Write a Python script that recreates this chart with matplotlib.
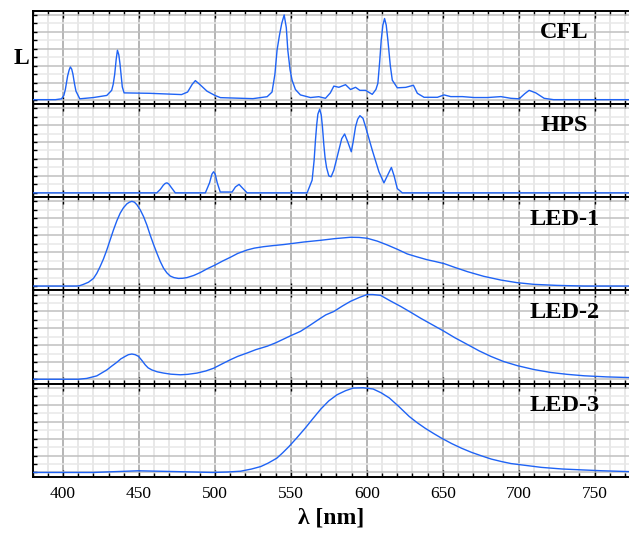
import matplotlib
matplotlib.use("Agg")
import matplotlib.pyplot as plt
from matplotlib.ticker import MultipleLocator

plt.rcParams['font.family'] = ['Liberation Serif', 'DejaVu Serif']

# ---------------- data ----------------
names = ["CFL", "HPS", "LED-1", "LED-2", "LED-3"]

cfl_nm = [380, 395, 399, 400.5, 401.5, 403, 404, 404.8, 405.7, 406.5, 407.5, 408.5, 411,
          420, 428.8, 432, 433, 434, 435, 435.8, 436.7, 437.5, 439, 440.2, 457, 478, 482,
          485, 487.1, 490, 494.8, 500, 503.6, 525, 534.4, 537.6, 539.5, 540.9, 542.5,
          544, 545.6, 547, 548, 549.5, 550.8, 553, 556.3, 562.9, 568.4, 572.8, 576,
          578.3, 581.6, 586, 589.3, 592.6, 595.4, 599.2, 603.6, 606, 607.3, 608.5, 609.5,
          610.6, 611.7, 612.8, 613.9, 615.5, 616.8, 620.1, 625.6, 630.7, 633.3, 637.7,
          646.5, 650.9, 655.3, 663, 670.7, 679.5, 688.3, 694.9, 700.3, 704, 706.9, 711.3,
          716.8, 723, 780]
cfl_val = [0.0, 0.0, 0.01, 0.05, 0.12, 0.28, 0.35, 0.386, 0.36, 0.30, 0.19, 0.10, 0.01,
           0.025, 0.05, 0.11, 0.18, 0.30, 0.48, 0.583, 0.53, 0.42, 0.15, 0.08, 0.075, 0.06,
           0.09, 0.18, 0.225, 0.18, 0.10, 0.05, 0.024, 0.012, 0.035, 0.09, 0.30, 0.583,
           0.76, 0.90, 1.0, 0.85, 0.583, 0.35, 0.23, 0.12, 0.056, 0.025, 0.035, 0.016,
           0.08, 0.16, 0.146, 0.177, 0.12, 0.146, 0.11, 0.11, 0.063, 0.12, 0.193, 0.45,
           0.70, 0.88, 0.958, 0.88, 0.70, 0.40, 0.23, 0.14, 0.145, 0.17, 0.075, 0.028,
           0.028, 0.056, 0.036, 0.036, 0.025, 0.025, 0.036, 0.016, 0.01, 0.07, 0.11, 0.08,
           0.016, 0.0, 0.0]

hps_nm = [380, 461.7, 464, 466, 467.3, 468.4, 469.6, 471, 473.9, 493.7, 496.5, 498,
          499.1, 500.2, 501.5, 503.5, 511.3, 513.5, 515.9, 518.5, 521.2, 560.7, 564,
          565.3, 566.2, 567, 567.8, 569, 570, 570.8, 571.7, 572.5, 573.5, 575, 576.5,
          578.3, 581.6, 583.5, 585.4, 587.5, 589.8, 591, 592.6, 594, 595.5, 597.5,
          599.2, 603.6, 608, 611.3, 613.5, 616.2, 618, 620.1, 623.4, 780]
hps_val = [0, 0, 0.04, 0.09, 0.112, 0.118, 0.105, 0.07, 0, 0, 0.12, 0.22,
           0.249, 0.22, 0.12, 0.01, 0.01, 0.07, 0.10, 0.05, 0, 0, 0.15,
           0.38, 0.62, 0.80, 0.93, 0.988, 0.92, 0.78, 0.57, 0.42, 0.30, 0.20, 0.19,
           0.267, 0.504, 0.64, 0.695, 0.60, 0.485, 0.60, 0.781, 0.87, 0.911, 0.88,
           0.78, 0.504, 0.249, 0.118, 0.20, 0.30, 0.20, 0.05, 0, 0]

led1_nm = [380, 409, 411, 413.4, 416.7, 420, 422.2, 424.4, 426.6, 428.8, 431, 433.2,
           435.4, 437.6, 439.8, 442, 443.7, 445.3, 447, 448.6, 450.8, 453, 455.2, 457.4,
           459.6, 461.8, 464, 466.2, 468.4, 470.6, 473, 476, 478.8, 481.6, 486, 490.4,
           495, 500.3, 505, 510.2, 515, 521.2, 526, 532.1, 538, 545.3, 552, 558.5, 564,
           569.5, 579, 589.3, 595, 600.3, 607, 613.5, 620, 626.7, 633, 639.9, 645, 650.9,
           658, 666.3, 677, 688.3, 699, 710.2, 725, 743.2, 780]
led1_val = [0, 0, 0.005, 0.02, 0.045, 0.09, 0.15, 0.23, 0.32, 0.426, 0.545, 0.663,
            0.77, 0.86, 0.925, 0.97, 0.99, 1.0, 0.99, 0.96, 0.90, 0.82, 0.72, 0.60,
            0.49, 0.387, 0.29, 0.21, 0.155, 0.118, 0.10, 0.09, 0.092, 0.10, 0.125, 0.16,
            0.205, 0.25, 0.295, 0.34, 0.385, 0.426, 0.448, 0.465, 0.477, 0.49, 0.505,
            0.52, 0.53, 0.54, 0.56, 0.576, 0.574, 0.564, 0.53, 0.485, 0.435, 0.379, 0.345,
            0.31, 0.29, 0.265, 0.22, 0.17, 0.115, 0.071, 0.04, 0.02, 0.008, 0.0, 0.0]

led2_nm = [380, 410, 415.6, 422.2, 428.8, 432, 435.4, 438, 440.9, 443, 445.3, 447.5,
           449.7, 452, 454.1, 456, 458.5, 462, 466.2, 471, 477.2, 482, 488.2, 494, 499.1,
           504, 510.1, 515, 521.2, 527, 534.4, 540, 545.3, 550, 556.3, 562, 569.5, 573,
           578.3, 584, 589.3, 595, 600.3, 604, 609.1, 615, 622.3, 629, 635.5, 643, 650.9,
           658, 666.3, 674, 681.7, 690, 699.3, 710, 721.2, 732, 743.2, 758, 773]
led2_val = [0, 0, 0.01, 0.04, 0.11, 0.155, 0.20, 0.24, 0.27, 0.29, 0.298, 0.29,
            0.27, 0.22, 0.17, 0.135, 0.11, 0.088, 0.073, 0.06, 0.053, 0.058, 0.073, 0.098,
            0.13, 0.175, 0.23, 0.27, 0.31, 0.35, 0.39, 0.43, 0.475, 0.515, 0.565, 0.63,
            0.72, 0.76, 0.80, 0.865, 0.92, 0.965, 1.0, 1.0, 0.99, 0.93, 0.86, 0.79, 0.72,
            0.645, 0.566, 0.49, 0.41, 0.335, 0.27, 0.21, 0.16, 0.115, 0.08, 0.058, 0.041,
            0.028, 0.02]

led3_nm = [380.7, 420, 449.5, 474.6, 498.4, 508, 516.9, 524, 530.2, 535, 540.7, 544.5,
           548.7, 554, 559.3, 564.5, 569.8, 575, 580.4, 586, 591, 597.6, 604.2, 609.5,
           614.8, 621, 628, 633, 638.6, 644, 649.2, 656, 662.4, 669, 675.7, 682, 688.9,
           695, 702.1, 715, 728.6, 742, 755, 773]
led3_val = [0, 0.0, 0.02, 0.01, 0.0, 0.005, 0.015, 0.04, 0.07, 0.11, 0.168, 0.23,
            0.305, 0.41, 0.52, 0.635, 0.75, 0.845, 0.917, 0.965, 0.996, 1.0, 0.985, 0.94,
            0.88, 0.78, 0.66, 0.59, 0.52, 0.46, 0.405, 0.34, 0.286, 0.237, 0.195, 0.158,
            0.128, 0.105, 0.089, 0.06, 0.041, 0.03, 0.02, 0.01]

series = [(cfl_nm, cfl_val), (hps_nm, hps_val), (led1_nm, led1_val),
          (led2_nm, led2_val), (led3_nm, led3_val)]

xticks = [400, 450, 500, 550, 600, 650, 700, 750]

# ---------------- figure ----------------
W, H = 629, 536
fig = plt.figure(figsize=(W / 100, H / 100), dpi=100)

left_px, top_px, ph = 32.7, 10.7, 93.2
line_color = '#1f63f5'

for i, (name, (xs, ys)) in enumerate(zip(names, series)):
    top = top_px + ph * i
    ax = fig.add_axes([left_px / W, 1 - (top + ph) / H, (W - left_px) / W + 0.002, ph / H])
    ax.set_xlim(380, 773.5)
    ax.set_ylim(-0.05, 1.05)
    ax.xaxis.set_major_locator(MultipleLocator(50))
    ax.xaxis.set_minor_locator(MultipleLocator(10))
    ax.yaxis.set_major_locator(MultipleLocator(0.2))
    ax.yaxis.set_minor_locator(MultipleLocator(0.1))
    ax.grid(which='major', axis='x', color='#b0b0b0', lw=1.3, zorder=0)
    ax.grid(which='minor', axis='x', color='#e6e6e6', lw=1.3, zorder=0)
    ax.grid(which='major', axis='y', color='#c0c0c0', lw=1.1, zorder=0)
    ax.grid(which='minor', axis='y', color='#e8e8e8', lw=1.1, zorder=0)
    ax.set_axisbelow(True)
    ax.plot(xs, ys, color=line_color, lw=1.0, zorder=3)
    for s in ['top', 'bottom', 'left']:
        ax.spines[s].set_linewidth(1.4)
        ax.spines[s].set_color('black')
    ax.spines['right'].set_visible(False)
    ax.tick_params(axis='x', which='both', direction='in', top=True, bottom=True,
                   color='black', width=1.0)
    ax.tick_params(axis='x', which='major', length=5)
    ax.tick_params(axis='x', which='minor', length=3)
    ax.tick_params(axis='y', which='both', direction='in', left=True, right=False,
                   labelleft=False, length=3, width=1.0)
    ax.text(730, 0.765, name, transform=ax.get_xaxis_transform(), ha='center',
            va='center', fontsize=17.5, fontweight='bold')
    if i < len(names) - 1:
        ax.tick_params(axis='x', labelbottom=False)
    else:
        ax.set_xticks(xticks)
        ax.tick_params(axis='x', labelsize=12.5, pad=7)
        ax.set_xlabel('λ [nm]', fontsize=17, fontweight='bold', labelpad=4)

fig.text(21.7 / W, 1 - 58 / H, 'L', fontsize=17, fontweight='bold', ha='center', va='center')

fig.savefig('out.png', dpi=100)
